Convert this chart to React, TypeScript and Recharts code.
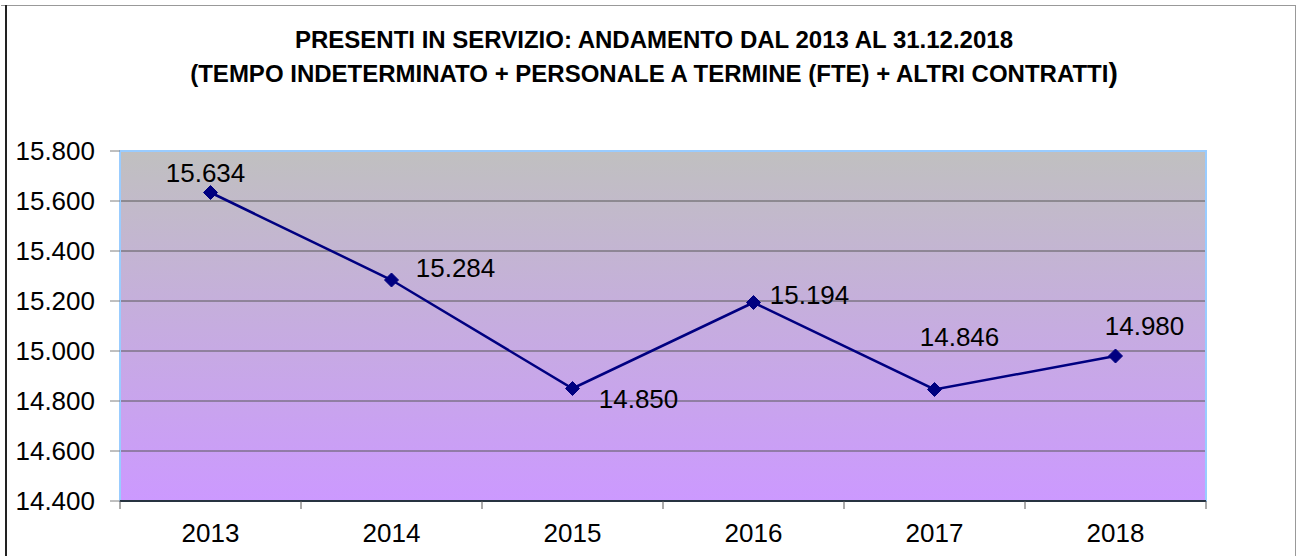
import React from "react";
import {
  LineChart,
  Line,
  XAxis,
  YAxis,
  CartesianGrid,
  ReferenceArea,
  LabelList,
} from "recharts";

// anni e presenti in servizio (FTE)
const YEARS = ["2013", "2014", "2015", "2016", "2017", "2018"];
const PRESENTI = [15634, 15284, 14850, 15194, 14846, 14980];
const Y_TICKS = [14400, 14600, 14800, 15000, 15200, 15400, 15600, 15800];

const TITLE_1 = "PRESENTI IN SERVIZIO: ANDAMENTO DAL 2013 AL 31.12.2018";
const TITLE_2 = "(TEMPO INDETERMINATO + PERSONALE A TERMINE (FTE) + ALTRI CONTRATTI";

// label offsets from each point (label centre), like the Excel original
const LABEL_OFFSETS = [
  [-5, -20],
  [64, -12],
  [66, 10],
  [56, -8],
  [25, -53],
  [29, -30],
];

const W = 1296;
const H = 556;
const MARGIN = { top: 151, right: 90, bottom: 15, left: 20 };
const PLOT_W = W - MARGIN.left - MARGIN.right - 100;
const FONT = '"Liberation Sans", Arial, sans-serif';

const data = YEARS.map((year, i) => ({ year, value: PRESENTI[i] }));

const fmt = (v: number) =>
  String(Math.round(v)).replace(/\B(?=(\d{3})+(?!\d))/g, ".");

const XTick = (props: any) => {
  const { x, y, payload, index } = props;
  const half =
    payload && payload.offset > 0 ? payload.offset : PLOT_W / YEARS.length / 2;
  return (
    <g>
      <line x1={x - half} y1={y} x2={x - half} y2={y + 8} stroke="#595959" />
      {index === YEARS.length - 1 && (
        <line x1={x + half} y1={y} x2={x + half} y2={y + 8} stroke="#595959" />
      )}
      <text
        x={x}
        y={y + 32}
        textAnchor="middle"
        dominantBaseline="central"
        fontSize={26}
        fontFamily={FONT}
        fill="#000"
      >
        {payload.value}
      </text>
    </g>
  );
};

const Diamond = (props: any) => {
  const { cx, cy, index } = props;
  if (cx == null || cy == null) return <g key={`d-${index}`} />;
  const r = 7;
  return (
    <polygon
      key={`d-${index}`}
      points={`${cx},${cy - r} ${cx + r},${cy} ${cx},${cy + r} ${cx - r},${cy}`}
      fill="#000080"
      stroke="#000080"
    />
  );
};

const PointLabel = (props: any) => {
  const { x, y, value, index } = props;
  const [dx, dy] = LABEL_OFFSETS[index] || [0, -20];
  return (
    <text
      x={x + dx}
      y={y + dy}
      textAnchor="middle"
      dominantBaseline="central"
      fontSize={26}
      fontFamily={FONT}
      fill="#000"
    >
      {fmt(value)}
    </text>
  );
};

export default function App() {
  return (
    <div
      style={{
        position: "fixed",
        left: 0,
        top: 0,
        width: W,
        height: H,
        overflow: "hidden",
        background: "#fff",
        fontFamily: FONT,
      }}
    >
      <div style={{ position: "absolute", left: 0, top: 0 }}>
        <LineChart width={W} height={H} data={data} margin={MARGIN}>
          <defs>
            <linearGradient id="plotBg" x1="0" y1="0" x2="0" y2="1">
              <stop offset="0%" stopColor="#C0C0C0" />
              <stop offset="100%" stopColor="#CC99FF" />
            </linearGradient>
          </defs>
          <CartesianGrid
            vertical={false}
            stroke="#595959"
            fill="url(#plotBg)"
            fillOpacity={1}
          />
          <ReferenceArea
            y1={14400}
            y2={15800}
            fill="none"
            stroke="#99CCFF"
            strokeWidth={2}
          />
          <XAxis
            dataKey="year"
            scale="band"
            height={40}
            tickLine={false}
            tickSize={0}
            tickMargin={0}
            axisLine={{ stroke: "#000", strokeWidth: 1.5 }}
            tick={<XTick />}
            interval={0}
          />
          <YAxis
            width={100}
            domain={[14400, 15800]}
            ticks={Y_TICKS}
            interval={0}
            tickFormatter={fmt}
            tickSize={10}
            tickMargin={15}
            tickLine={{ stroke: "#808080" }}
            axisLine={false}
            tick={{ fontSize: 26, fontFamily: FONT, fill: "#000" }}
          />
          <Line
            dataKey="value"
            stroke="#000080"
            strokeWidth={2.5}
            dot={(p: any) => <Diamond key={`d-${p.index}`} {...p} />}
            activeDot={false}
            isAnimationActive={false}
          >
            <LabelList dataKey="value" content={<PointLabel />} />
          </Line>
        </LineChart>
      </div>
      <svg
        width={W}
        height={H}
        style={{ position: "absolute", left: 0, top: 0, pointerEvents: "none" }}
      >
        <line x1={1} y1={5.5} x2={1295.5} y2={5.5} stroke="#999" strokeWidth={1} />
        <line x1={6} y1={5} x2={6} y2={H} stroke="#222" strokeWidth={2} />
        <line x1={1295.5} y1={5} x2={1295.5} y2={H} stroke="#999" strokeWidth={1} />
      </svg>
      <div
        style={{
          position: "absolute",
          left: 0,
          top: 23,
          width: 1308,
          textAlign: "center",
          fontWeight: "bold",
          fontSize: 24,
          lineHeight: "33px",
          color: "#000",
        }}
      >
        <div>{TITLE_1}</div>
        <div>
          {TITLE_2}
          <span style={{ fontSize: 28 }}>)</span>
        </div>
      </div>
    </div>
  );
}
